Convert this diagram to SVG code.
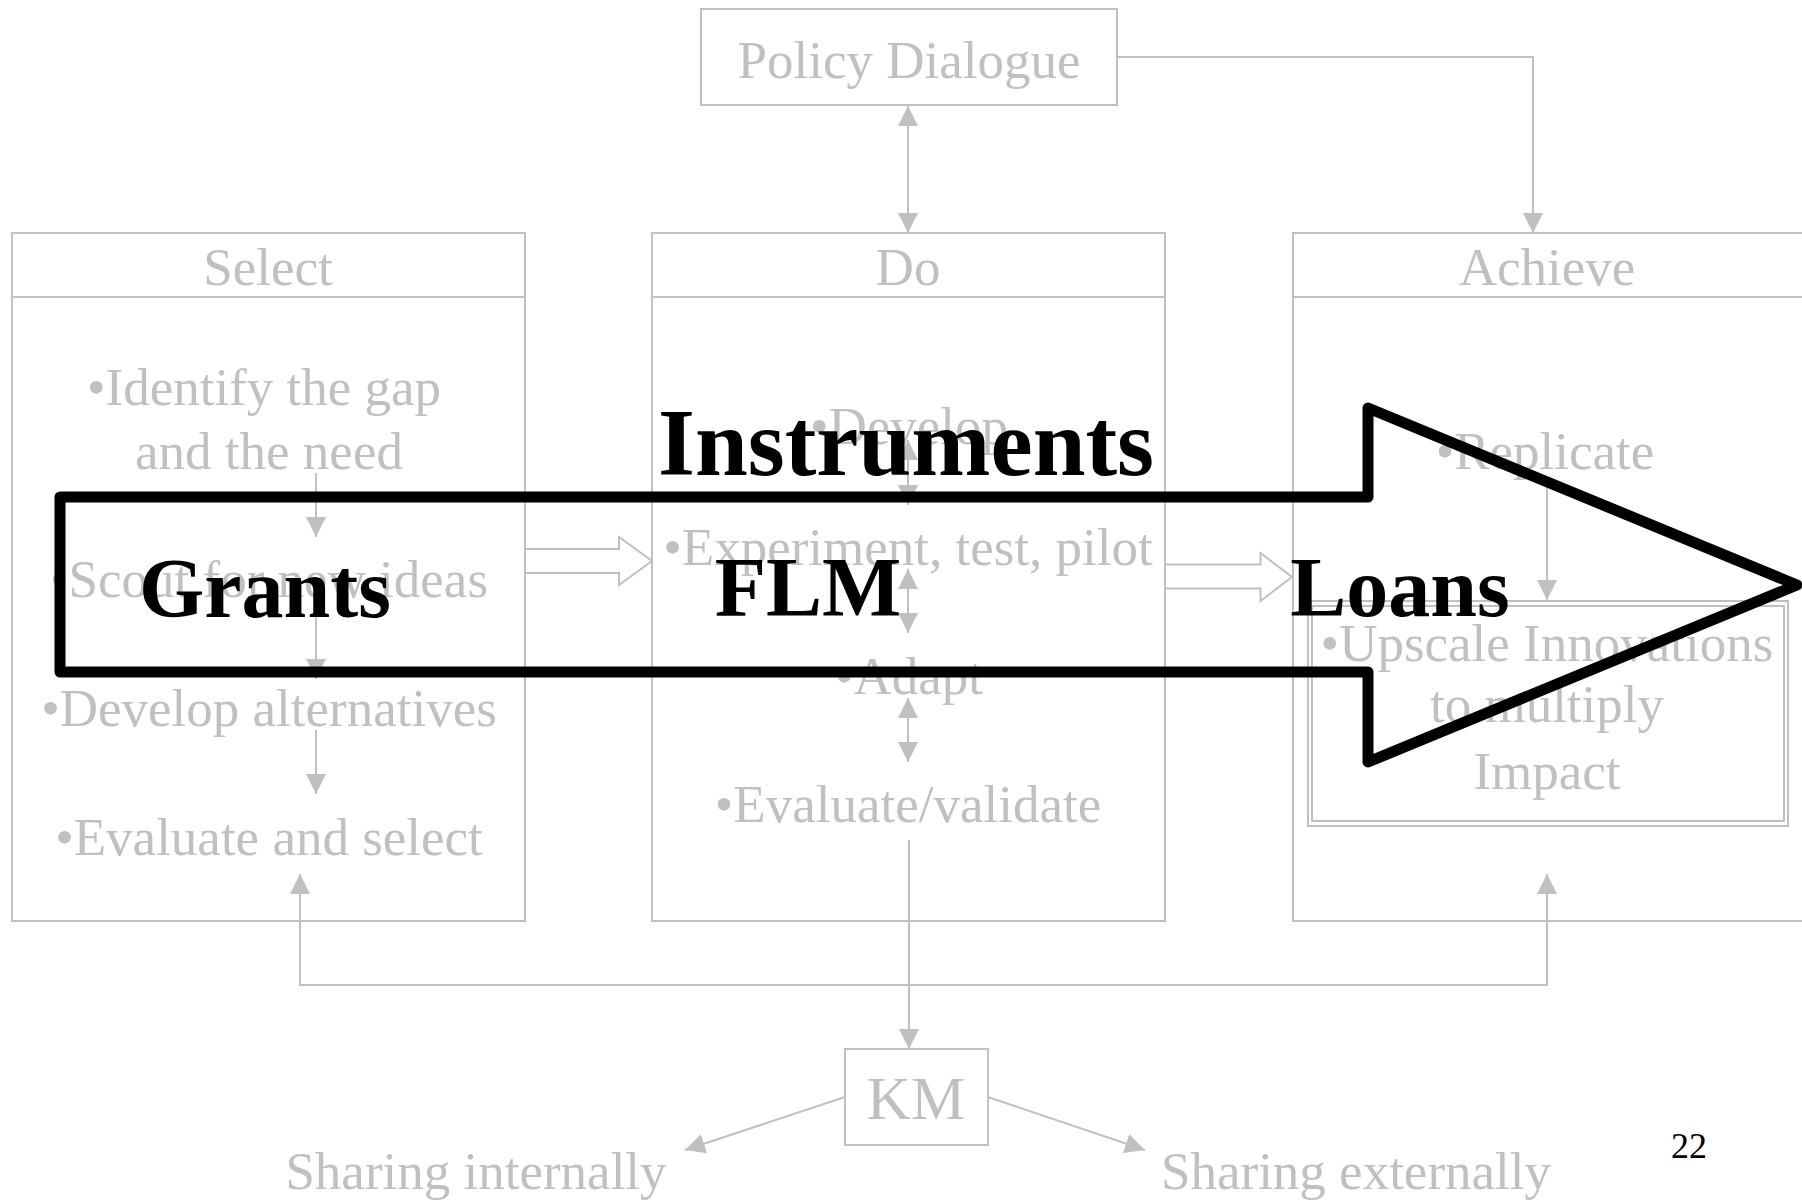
<svg xmlns="http://www.w3.org/2000/svg" width="1802" height="1200" viewBox="0 0 1802 1200">
<style>
.box{fill:none;stroke:#c0c0c0;stroke-width:2}
.ln{fill:none;stroke:#c0c0c0;stroke-width:2}
.t{font-family:"Liberation Serif","Times New Roman",serif;font-size:53px;fill:#c0c0c0;text-anchor:middle}
.b{font-family:"Liberation Serif","Times New Roman",serif;font-weight:bold;fill:#000;text-anchor:middle}
</style>
<defs>
<marker id="ah" viewBox="0 0 20 20" refX="20" refY="10" markerWidth="20" markerHeight="20" markerUnits="userSpaceOnUse" orient="auto-start-reverse">
<path d="M0,0 L20,10 L0,20 z" fill="#c0c0c0"/>
</marker>
</defs>
<rect width="1802" height="1200" fill="#fff"/>

<g id="policy">
<rect class="box" x="701" y="9" width="416" height="96"/>
<text class="t" x="909" y="78">Policy Dialogue</text>
</g>

<g id="select">
<rect class="box" x="12" y="233" width="513" height="688"/>
<line class="box" x1="12" y1="297" x2="525" y2="297"/>
<text class="t" x="268" y="285">Select</text>
<text class="t" x="264" y="405">•Identify the gap</text>
<text class="t" x="269" y="469">and the need</text>
<text class="t" x="269" y="597">•Scout for new ideas</text>
<text class="t" x="269" y="726">•Develop alternatives</text>
<text class="t" x="269" y="855">•Evaluate and select</text>
</g>

<g id="do">
<rect class="box" x="652" y="233" width="513" height="688"/>
<line class="box" x1="652" y1="297" x2="1165" y2="297"/>
<text class="t" x="908" y="285">Do</text>
<text class="t" x="909" y="444">•Develop</text>
<text class="t" x="908" y="565">•Experiment, test, pilot</text>
<text class="t" x="909" y="694">•Adapt</text>
<text class="t" x="908" y="822">•Evaluate/validate</text>
</g>

<g id="achieve">
<rect class="box" x="1293" y="233" width="513" height="688"/>
<line class="box" x1="1293" y1="297" x2="1806" y2="297"/>
<text class="t" x="1547" y="285">Achieve</text>
<text class="t" x="1545" y="469">•Replicate</text>
</g>

<g id="upscale">
<rect class="box" x="1308" y="601" width="480" height="225" stroke-width="1.5"/>
<rect class="box" x="1312" y="606" width="472" height="215" stroke-width="1.5"/>
<text class="t" x="1547" y="661">•Upscale Innovations</text>
<text class="t" x="1547" y="722">to multiply</text>
<text class="t" x="1547" y="789">Impact</text>
</g>

<g id="km">
<rect class="box" x="845" y="1049" width="143" height="96"/>
<text class="t" x="916" y="1119" style="font-size:61px">KM</text>
</g>

<g id="sharing-int"><text class="t" x="476" y="1189">Sharing internally</text></g>
<g id="sharing-ext"><text class="t" x="1356" y="1189">Sharing externally</text></g>

<g id="connectors">
<line class="ln" x1="908" y1="106" x2="908" y2="233" marker-start="url(#ah)" marker-end="url(#ah)"/>
<polyline class="ln" points="1117,57 1533,57 1533,233" marker-end="url(#ah)"/>
<line class="ln" x1="316" y1="473" x2="316" y2="537" marker-end="url(#ah)"/>
<line class="ln" x1="316" y1="615" x2="316" y2="679" marker-end="url(#ah)"/>
<line class="ln" x1="316" y1="730" x2="316" y2="794" marker-end="url(#ah)"/>
<line class="ln" x1="908" y1="440" x2="908" y2="505" marker-start="url(#ah)" marker-end="url(#ah)"/>
<line class="ln" x1="908" y1="569" x2="908" y2="633" marker-start="url(#ah)" marker-end="url(#ah)"/>
<line class="ln" x1="908" y1="698" x2="908" y2="762" marker-start="url(#ah)" marker-end="url(#ah)"/>
<line class="ln" x1="1547" y1="486" x2="1547" y2="600" marker-end="url(#ah)"/>
<polyline class="ln" points="1547,874 1547,985 300,985 300,874" marker-start="url(#ah)" marker-end="url(#ah)"/>
<line class="ln" x1="909" y1="840" x2="909" y2="1049" marker-end="url(#ah)"/>
<line class="ln" x1="845" y1="1097" x2="685" y2="1150" marker-end="url(#ah)"/>
<line class="ln" x1="988" y1="1097" x2="1145" y2="1150" marker-end="url(#ah)"/>
<polyline class="ln" points="525,549 619,549 619,537 652,561 619,585 619,573 525,573" stroke-width="1.5"/>
<polyline class="ln" points="1165,564.5 1260.5,564.5 1260.5,553 1292,577 1260.5,601 1260.5,588.5 1165,588.5" stroke-width="1.5"/>
</g>

<g id="instruments-arrow">
<polygon points="60,497 1368,497 1368,408 1797,585 1368,762 1368,672 60,672" fill="none" stroke="#000" stroke-width="11" stroke-linejoin="round"/>
<text class="b" x="906" y="475" style="font-size:95px">Instruments</text>
<text class="b" x="265" y="617" style="font-size:84px">Grants</text>
<text class="b" x="808" y="616" style="font-size:84px">FLM</text>
<text class="b" x="1400" y="616" style="font-size:84px">Loans</text>
</g>

<text x="1689" y="1158" style="font-family:'Liberation Serif','Times New Roman',serif;font-size:36px;text-anchor:middle;fill:#000">22</text>
</svg>
